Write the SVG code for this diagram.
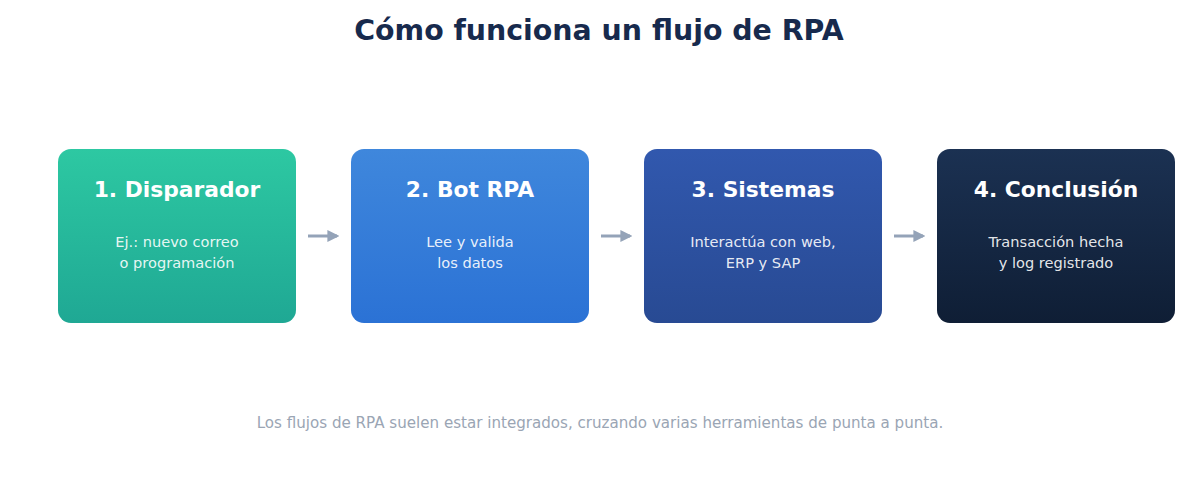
<svg xmlns="http://www.w3.org/2000/svg" width="1200" height="481" viewBox="0 0 1200 481">
<style>
.title{font-family:"DejaVu Sans",sans-serif;font-weight:bold;font-size:28.4px;fill:#172a4d;text-anchor:middle}
.h{font-family:"DejaVu Sans",sans-serif;font-weight:bold;font-size:21.8px;fill:#ffffff;text-anchor:middle}
.s{font-family:"DejaVu Sans",sans-serif;font-size:14.6px;fill:#ffffff;fill-opacity:0.9;text-anchor:middle}
.foot{font-family:"DejaVu Sans",sans-serif;font-size:15.1px;fill:#9aa5b4;text-anchor:middle}
.conn{stroke:#94a3b8;stroke-width:3;fill:none}
</style>
<defs>
<linearGradient id="g1" x1="0" y1="0" x2="0" y2="1"><stop offset="0" stop-color="#2dc8a2"/><stop offset="1" stop-color="#1fa894"/></linearGradient>
<linearGradient id="g2" x1="0" y1="0" x2="0" y2="1"><stop offset="0" stop-color="#3f87dc"/><stop offset="1" stop-color="#2b72d5"/></linearGradient>
<linearGradient id="g3" x1="0" y1="0" x2="0" y2="1"><stop offset="0" stop-color="#3158ae"/><stop offset="1" stop-color="#284a93"/></linearGradient>
<linearGradient id="g4" x1="0" y1="0" x2="0" y2="1"><stop offset="0" stop-color="#1b3152"/><stop offset="1" stop-color="#0f1e35"/></linearGradient>
<marker id="ah" viewBox="0 0 10 10" refX="8" refY="5" markerWidth="4" markerHeight="4" orient="auto" markerUnits="strokeWidth"><path d="M0,0 L10,5 L0,10 z" fill="#94a3b8"/></marker>
</defs>
<rect width="1200" height="481" fill="#ffffff"/>
<text class="title" x="599" y="40">Cómo funciona un flujo de RPA</text>
<g id="connectors">
<line class="conn" x1="308" y1="236" x2="337" y2="236" marker-end="url(#ah)"/>
<line class="conn" x1="601" y1="236" x2="630" y2="236" marker-end="url(#ah)"/>
<line class="conn" x1="894" y1="236" x2="923" y2="236" marker-end="url(#ah)"/>
</g>
<g id="n1">
<rect x="58" y="149" width="238" height="174" rx="13" fill="url(#g1)"/>
<text class="h" x="177" y="197">1. Disparador</text>
<text class="s" x="177" y="247">Ej.: nuevo correo</text>
<text class="s" x="177" y="268">o programación</text>
</g>
<g id="n2">
<rect x="351" y="149" width="238" height="174" rx="13" fill="url(#g2)"/>
<text class="h" x="470" y="197">2. Bot RPA</text>
<text class="s" x="470" y="247">Lee y valida</text>
<text class="s" x="470" y="268">los datos</text>
</g>
<g id="n3">
<rect x="644" y="149" width="238" height="174" rx="13" fill="url(#g3)"/>
<text class="h" x="763" y="197">3. Sistemas</text>
<text class="s" x="763" y="247">Interactúa con web,</text>
<text class="s" x="763" y="268">ERP y SAP</text>
</g>
<g id="n4">
<rect x="937" y="149" width="238" height="174" rx="13" fill="url(#g4)"/>
<text class="h" x="1056" y="197">4. Conclusión</text>
<text class="s" x="1056" y="247">Transacción hecha</text>
<text class="s" x="1056" y="268">y log registrado</text>
</g>
<text class="foot" x="600" y="428">Los flujos de RPA suelen estar integrados, cruzando varias herramientas de punta a punta.</text>
</svg>
